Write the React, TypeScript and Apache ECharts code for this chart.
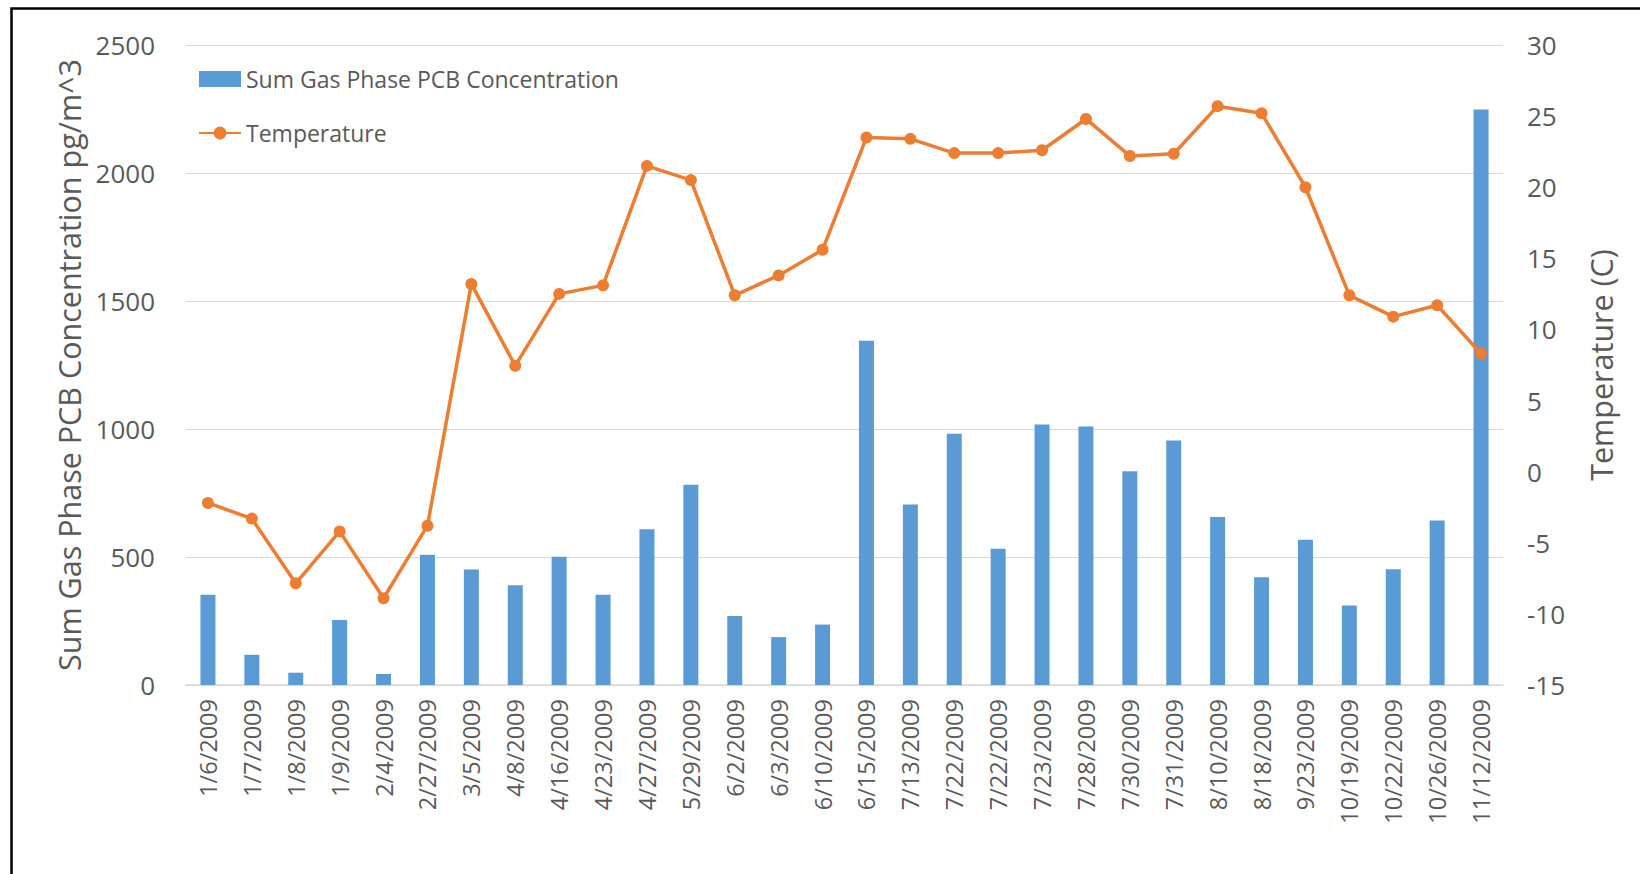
import React, { useEffect, useRef } from "react";
import * as echarts from "echarts";

const categories = [
  "1/6/2009", "1/7/2009", "1/8/2009", "1/9/2009", "2/4/2009", "2/27/2009",
  "3/5/2009", "4/8/2009", "4/16/2009", "4/23/2009", "4/27/2009", "5/29/2009",
  "6/2/2009", "6/3/2009", "6/10/2009", "6/15/2009", "7/13/2009", "7/22/2009",
  "7/22/2009", "7/23/2009", "7/28/2009", "7/30/2009", "7/31/2009", "8/10/2009",
  "8/18/2009", "9/23/2009", "10/19/2009", "10/22/2009", "10/26/2009", "11/12/2009",
];

const pcbConcentration = [
  353, 118, 48, 254, 43, 509, 451, 390, 501, 353, 608, 782, 270, 187, 236,
  1345, 705, 981, 532, 1018, 1010, 835, 955, 656, 421, 567, 311, 452, 643, 2248,
];

const temperature = [
  -2.2, -3.3, -7.85, -4.2, -8.9, -3.8, 13.2, 7.45, 12.5, 13.1, 21.5, 20.5, 12.4,
  13.8, 15.6, 23.5, 23.4, 22.4, 22.4, 22.6, 24.8, 22.2, 22.35, 25.7, 25.2, 20.0,
  12.4, 10.9, 11.7, 8.3,
];

const leftTicks = { min: 0, max: 2500, interval: 500 };
const rightTicks = { min: -15, max: 30, interval: 5 };

const FONT = "'Open Sans', 'Noto Sans', sans-serif";
const GRAY = "#595959";

export default function App() {
  const ref = useRef<HTMLDivElement>(null);

  useEffect(() => {
    if (!ref.current) return;
    const chart = echarts.init(ref.current, null, { renderer: "svg" });
    chart.setOption({
      animation: false,
      backgroundColor: "#ffffff",
      textStyle: { fontFamily: FONT },
      graphic: [
        {
          type: "rect",
          left: 9,
          top: 6,
          shape: { width: 1660, height: 900 },
          style: { fill: "none", stroke: "#000", lineWidth: 2.5 },
          silent: true,
        },
      ],
      legend: {
        orient: "vertical",
        left: 193,
        top: 62,
        itemWidth: 42,
        itemHeight: 16,
        itemGap: 30,
        textStyle: { fontSize: 23, color: GRAY, fontFamily: FONT, lineHeight: 24 },
        data: [
          { name: "Sum Gas Phase PCB Concentration", icon: "rect" },
          { name: "Temperature" },
        ],
      },
      grid: { left: 186, right: 137, top: 45, bottom: 189, containLabel: false },
      xAxis: {
        type: "category",
        data: categories,
        axisTick: { show: false },
        axisLine: { lineStyle: { color: "#d9d9d9", width: 1.5 } },
        axisLabel: {
          rotate: 90,
          interval: 0,
          fontSize: 23.5,
          color: GRAY,
          margin: 14,
          fontFamily: FONT,
        },
      },
      yAxis: [
        {
          type: "value",
          ...leftTicks,
          position: "left",
          name: "Sum Gas Phase PCB Concentration pg/m^3",
          nameLocation: "middle",
          nameGap: 102,
          nameTextStyle: { fontSize: 30.5, color: GRAY, fontFamily: FONT },
          axisLine: { show: false },
          axisTick: { show: false },
          axisLabel: {
            fontSize: 26,
            color: GRAY,
            margin: 31,
            fontFamily: FONT,
            formatter: (v: number) => String(v),
          },
          splitLine: { lineStyle: { color: "#d9d9d9", width: 1.2 } },
        },
        {
          type: "value",
          ...rightTicks,
          position: "right",
          name: "Temperature (C)",
          nameLocation: "middle",
          nameGap: 82,
          nameTextStyle: { fontSize: 30.5, color: GRAY, fontFamily: FONT },
          axisLine: { show: false },
          axisTick: { show: false },
          axisLabel: {
            fontSize: 26,
            color: GRAY,
            margin: 24,
            fontFamily: FONT,
            formatter: (v: number) => String(v),
          },
          splitLine: { show: false },
        },
      ],
      series: [
        {
          name: "Sum Gas Phase PCB Concentration",
          type: "bar",
          data: pcbConcentration,
          barWidth: 15,
          itemStyle: { color: "#5B9BD5" },
          yAxisIndex: 0,
        },
        {
          name: "Temperature",
          type: "line",
          data: temperature,
          yAxisIndex: 1,
          symbol: "circle",
          symbolSize: 12,
          lineStyle: { color: "#ED7D31", width: 3.5 },
          itemStyle: { color: "#ED7D31" },
        },
      ],
    });
    return () => chart.dispose();
  }, []);

  return (
    <div
      ref={ref}
      style={{ position: "fixed", left: 0, top: 0, width: 1640, height: 874 }}
    />
  );
}
